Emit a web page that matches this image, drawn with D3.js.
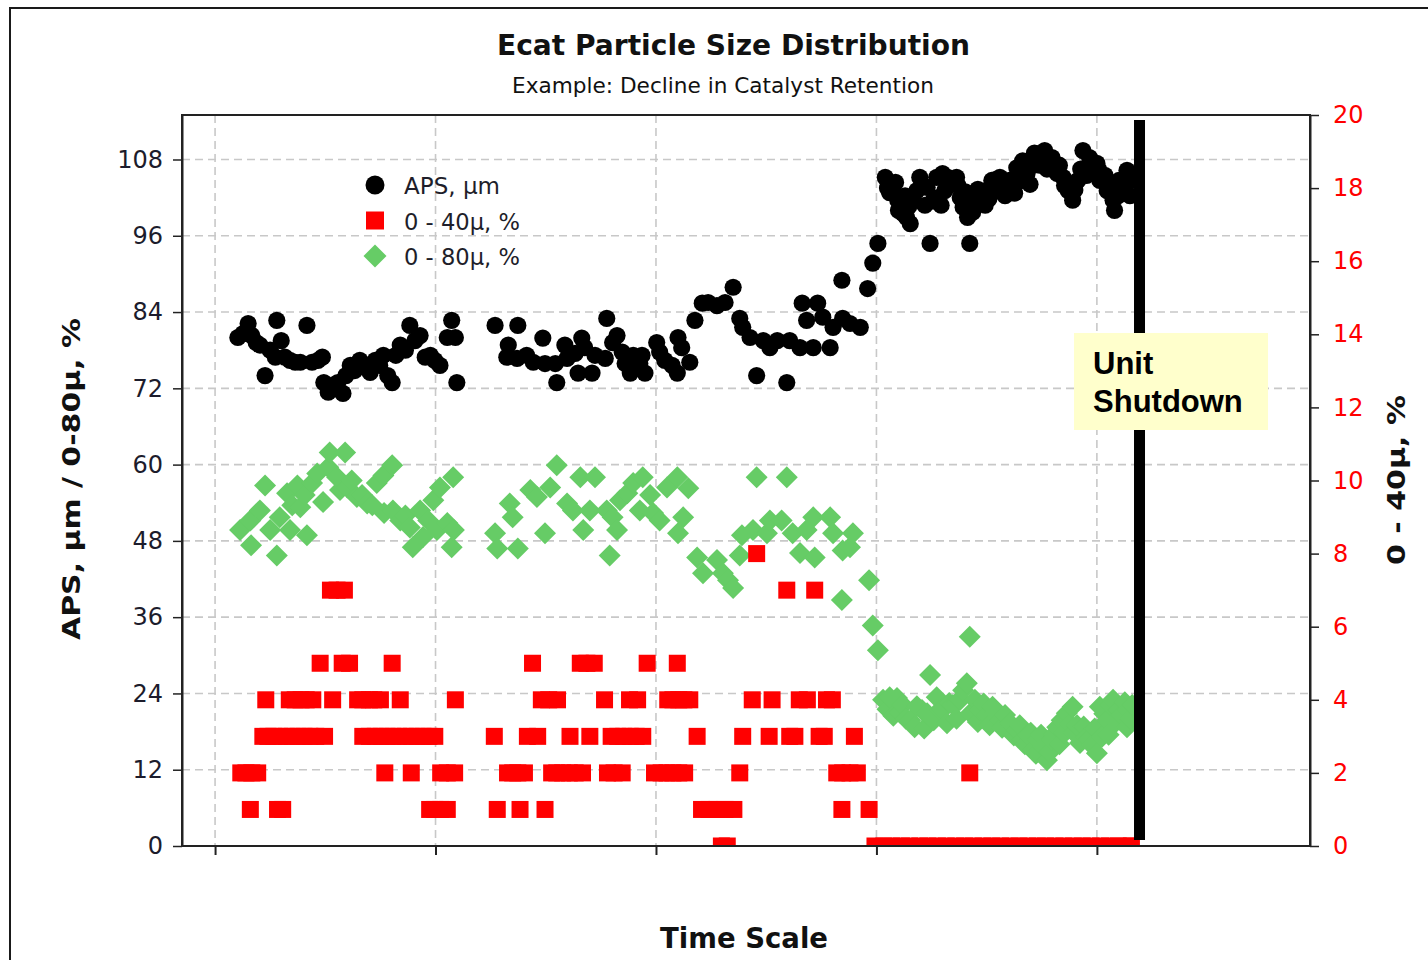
<!DOCTYPE html>
<html>
<head>
<meta charset="utf-8">
<script src="https://cdn.jsdelivr.net/npm/d3@7"></script>
<style>
  html, body { margin: 0; padding: 0; background: #ffffff; }
  svg { display: block; }
</style>
</head>
<body>
<svg id="chart" width="1428" height="960"></svg>
<script>
// ---- Texts ----
const chartTitle = "Ecat Particle Size Distribution";
const chartSubtitle = "Example: Decline in Catalyst Retention";
const xTitle = "Time Scale";
const yLeftTitle = "APS, µm / 0-80µ, %";
const yRightTitle = "0 - 40µ, %";
const seriesNames = ["APS, µm", "0 - 40µ, %", "0 - 80µ, %"];
const shutdownLabel = ["Unit", "Shutdown"];

// ---- Axis ticks ----
const leftTicks = [0, 12, 24, 36, 48, 60, 72, 84, 96, 108];
const rightTicks = [0, 2, 4, 6, 8, 10, 12, 14, 16, 18, 20];
const timeTicks = [0, 30, 60, 90, 120];
const shutdownDay = 125.8;

// ---- Samples: [day, value] ----
// Average particle size, µm (left axis)
const apsSeries = [
  [3.1,80.0],[3.8,80.6],[4.5,82.2],[5.0,80.3],[5.6,79.2],[6.1,78.8],[6.8,74.0],[7.5,78.0],
  [8.2,76.9],[8.4,82.7],[9.0,79.5],[9.5,76.9],[10.2,76.4],[10.9,76.1],[11.6,76.1],[12.5,81.9],
  [13.2,76.1],[14.0,76.4],[14.6,76.9],[14.8,72.9],[15.4,71.4],[16.1,72.5],[16.7,72.9],[17.4,71.2],
  [17.8,74.0],[18.4,75.6],[19.0,74.8],[19.7,76.4],[20.4,75.6],[21.1,74.5],[21.8,76.4],[22.4,75.6],
  [22.9,77.2],[23.5,74.0],[24.1,72.9],[24.6,77.2],[25.2,78.8],[25.9,78.0],[26.5,81.9],[27.2,79.5],
  [27.9,80.3],[28.6,76.9],[29.3,77.2],[29.9,76.4],[30.6,75.6],[31.6,80.0],[32.2,82.7],[32.7,80.0],
  [32.9,72.9],
  [38.1,81.9],[39.7,76.9],[39.9,78.8],[41.1,76.7],[41.2,81.9],[42.4,77.2],[43.3,76.1],[44.6,79.9],
  [44.9,75.9],[46.3,75.9],[46.5,72.9],[47.6,78.8],[47.9,76.7],[49.0,77.5],[49.4,74.4],[49.9,79.9],
  [50.3,78.4],[51.3,74.4],[51.7,77.2],[53.1,76.7],[53.3,83.0],[54.1,79.2],[54.7,80.3],[55.4,77.7],
  [55.8,75.9],[56.5,74.4],[56.9,77.2],[57.8,75.9],[58.1,77.2],[58.5,74.4],[60.1,79.2],[60.5,77.7],
  [61.2,76.4],[62.2,75.6],[62.9,74.4],[63.0,80.0],[63.5,78.4],[64.6,76.1],[65.3,82.7],[66.3,85.4],
  [67.1,85.5],[68.3,85.0],[69.4,85.5],[70.5,87.9],[71.4,83.0],[71.8,81.6],[72.8,80.0],[73.7,74.0],
  [74.6,79.5],[75.5,78.4],[76.5,79.5],[77.8,72.9],[78.2,79.5],[79.6,78.4],[79.9,85.4],[80.5,82.7],
  [81.4,78.4],[82.0,85.4],[82.7,83.2],[83.7,78.4],[84.1,81.6],[85.3,89.0],[85.4,83.0],[86.4,82.2],
  [87.8,81.6],[88.8,87.7],[89.5,91.7],[90.2,94.8],
  [91.2,105.2],[91.5,103.5],[91.8,102.8],[92.2,103.9],[92.6,104.4],[92.9,101.6],[93.0,100.0],[93.6,99.5],
  [93.9,102.3],[94.1,98.9],[94.4,100.6],[94.6,97.9],[95.0,101.6],[95.5,103.1],[95.9,105.2],[96.2,104.0],
  [96.6,100.8],[96.9,103.6],[97.3,94.8],[97.7,101.5],[98.2,105.2],[98.4,102.0],[98.8,100.8],[99.0,105.8],
  [99.3,103.1],[99.7,105.2],[100.4,104.2],[100.9,105.2],[101.1,103.9],[101.4,102.0],[101.8,100.5],[102.1,102.9],
  [102.4,98.9],[102.7,94.8],[103.1,99.7],[103.4,101.6],[103.8,103.3],[104.1,102.0],[104.8,100.8],[104.9,103.1],
  [105.3,101.8],[105.7,104.7],[106.1,104.8],[106.4,103.1],[106.8,105.2],[107.5,102.3],[107.9,104.2],[108.1,104.7],
  [108.8,102.7],[109.1,106.7],[109.4,104.6],[109.9,107.8],[110.0,105.5],[110.5,105.8],[110.9,104.1],[111.2,107.1],
  [111.5,109.0],[111.8,108.9],[112.2,107.1],[112.5,108.0],[112.9,109.4],[113.2,106.5],[113.5,107.9],[113.9,108.3],
  [114.3,106.9],[114.6,105.8],[114.9,107.1],[115.4,105.2],[115.6,103.9],[115.9,104.4],[116.1,103.1],[116.7,101.6],
  [117.0,103.2],[117.4,104.7],[117.8,106.5],[118.1,109.4],[118.6,105.5],[119.0,108.3],[119.5,106.2],[120.0,107.4],
  [120.2,106.5],[120.4,104.7],[121.1,105.5],[121.4,103.1],[121.8,104.1],[122.2,101.6],[122.4,100.0],[122.9,102.3],
  [123.0,104.7],[123.5,103.6],[123.9,104.9],[124.1,106.3],[124.5,102.3],[124.8,104.7]
];

// Fines 0-40 µm, % (right axis)
const fines40Series = [
  [3.5,2],[4.2,2],[4.8,1],[5.0,2],[5.8,2],[6.5,3],[6.9,4],[7.2,3],[8.0,3],[8.5,1],[8.8,3],[9.2,1],
  [9.7,3],[10.1,4],[10.5,3],[10.9,4],[11.3,3],[11.7,4],[12.1,3],[12.4,4],[12.9,3],[13.3,4],[13.7,3],
  [14.3,5],[14.9,3],[15.7,7],[16.0,4],[16.6,7],[17.3,5],[17.6,7],[18.3,5],[19.4,4],[20.1,3],[20.1,4],
  [21.0,3],[21.0,4],[21.6,4],[21.8,3],[22.5,4],[22.6,3],[23.1,2],[23.4,3],[24.1,5],[24.2,3],[25.0,3],
  [25.2,4],[25.9,3],[26.7,2],[26.7,3],[27.5,3],[28.3,3],[29.1,3],[29.2,1],[29.9,1],[29.9,3],[30.7,1],
  [30.7,2],[31.6,1],[31.6,2],[32.6,2],[32.7,4],
  [38.0,3],[38.4,1],[39.8,2],[40.5,2],[41.2,2],[41.5,1],[42.1,2],[42.5,3],[43.2,5],[43.9,3],[44.4,4],
  [44.9,1],[45.4,4],[45.8,2],[46.5,2],[46.6,4],[47.3,2],[48.2,2],[48.3,3],[49.0,2],[49.7,5],[50.0,2],
  [50.6,5],[51.0,3],[51.6,5],[53.0,4],[53.4,2],[53.9,3],[54.3,2],[54.8,3],[55.4,2],[55.6,3],[56.4,4],
  [56.5,3],[57.3,3],[57.5,4],[58.2,3],[58.8,5],[59.8,2],[60.7,2],[61.5,2],[61.6,4],[62.3,2],[62.3,4],
  [62.9,5],[63.1,2],[63.1,4],[63.8,4],[63.9,2],[64.6,4],[65.6,3],[66.2,1],[67.2,1],[68.3,1],[68.9,0],
  [69.4,1],[69.7,0],[70.6,1],[71.4,2],[71.8,3],[73.1,4],[73.7,8],[75.4,3],[75.8,4],[77.8,7],[78.2,3],
  [78.9,3],[79.5,4],[80.6,4],[81.6,7],[82.2,3],[82.9,3],[83.2,4],[84.0,4],[84.6,2],[85.3,1],[85.4,2],
  [86.4,2],[87.0,3],[87.4,2],[89.0,1],
  [89.8,0],[91.0,0],[92.1,0],[93.4,0],[94.5,0],[95.9,0],[97.0,0],[98.3,0],[99.5,0],[100.8,0],[102.0,0],
  [102.7,2],[103.2,0],[104.5,0],[105.7,0],[106.9,0],[108.2,0],[109.4,0],[110.6,0],[111.9,0],[113.0,0],
  [114.3,0],[115.5,0],[116.8,0],[118.0,0],[119.2,0],[120.5,0],[121.7,0],[122.9,0],[124.0,0],[124.7,0]
];

// Fines 0-80 µm, % (left axis)
const fines80Series = [
  [3.4,49.7],[4.8,51.2],[4.9,47.3],[6.1,52.8],[6.8,56.7],[7.5,49.7],[8.4,45.7],[8.8,51.7],[9.8,55.5],
  [10.2,49.7],[10.5,53.6],[11.2,56.7],[11.6,53.3],[12.2,55.2],[12.5,48.9],[13.2,57.1],[13.9,58.6],
  [14.7,54.1],[15.4,59.6],[15.6,61.9],[16.6,58.0],[17.0,56.0],[17.7,61.9],[18.0,56.4],[18.6,57.5],
  [19.3,54.9],[20.0,55.2],[20.7,53.9],[21.4,53.6],[22.0,57.1],[22.9,58.3],[23.0,52.4],[24.1,59.9],
  [24.2,52.8],[25.2,51.2],[25.9,52.0],[26.5,50.1],[26.9,47.0],[27.9,52.8],[28.3,48.6],[29.0,51.2],
  [29.7,54.4],[30.2,49.7],[30.6,56.4],[31.6,50.8],[32.2,47.0],[32.4,58.0],[32.5,49.7],
  [38.1,49.2],[38.4,46.8],[40.1,53.9],[40.5,51.7],[41.2,46.8],[42.9,56.0],[43.8,54.9],[44.9,49.2],
  [45.6,56.4],[46.5,59.9],[47.9,53.9],[48.7,52.8],[49.7,58.0],[50.1,49.7],[51.0,52.8],[51.7,58.0],
  [53.3,52.8],[53.7,45.7],[54.1,51.7],[54.7,49.7],[55.1,54.4],[56.1,55.5],[56.9,57.1],[57.8,52.8],
  [58.2,58.0],[59.2,55.2],[59.6,52.4],[60.5,51.2],[61.5,56.4],[62.9,58.0],[63.0,49.2],[63.7,51.7],
  [64.4,56.3],[65.6,45.4],[66.4,42.9],[68.3,45.0],[69.1,42.9],[69.8,41.8],[70.5,40.6],[71.4,45.7],
  [71.7,48.9],[73.2,49.7],[73.7,58.0],[75.1,49.2],[75.5,51.2],[77.1,51.2],[77.8,58.0],[78.6,49.2],
  [79.6,46.1],[80.5,49.7],[81.4,51.7],[81.6,45.4],[83.7,51.7],[84.1,49.2],[85.3,38.7],[85.4,46.5],
  [86.4,47.0],[86.8,49.2],[89.0,41.8],[89.5,34.7],[90.2,30.8],
  [90.9,23.0],[91.5,21.5],[91.8,23.4],[92.3,20.5],[92.8,23.3],[93.2,21.0],[93.6,22.2],[94.0,20.0],
  [94.6,19.8],[95.2,18.7],[95.5,22.0],[96.2,21.4],[96.5,18.5],[96.9,20.9],[97.3,26.9],[97.8,19.8],
  [98.2,23.4],[98.6,21.4],[99.0,21.5],[99.6,19.3],[99.9,22.5],[100.4,22.2],[100.9,20.0],[101.0,22.6],
  [101.4,23.0],[101.8,24.5],[102.3,25.6],[102.7,32.9],[102.8,20.9],[103.4,23.0],[103.8,19.5],[104.1,21.4],
  [104.6,22.4],[105.0,20.6],[105.4,19.0],[105.8,21.9],[106.2,21.0],[106.8,19.8],[107.1,18.6],[107.5,20.6],
  [108.2,19.3],[108.7,17.4],[109.1,18.2],[109.5,19.0],[109.9,16.7],[110.2,16.0],[110.6,17.5],[111.0,17.8],
  [111.3,15.1],[111.7,14.5],[112.0,16.7],[112.4,17.5],[112.7,15.6],[113.2,13.5],[113.6,14.8],[113.9,16.7],
  [114.2,17.6],[114.6,18.7],[114.9,16.0],[115.2,19.8],[115.6,17.8],[115.9,20.9],[116.3,19.2],[116.7,21.9],
  [116.9,17.8],[117.3,19.0],[117.7,16.2],[118.2,18.8],[118.6,17.1],[119.0,16.8],[119.3,15.9],[119.7,18.5],
  [120.0,14.6],[120.4,21.9],[120.7,17.2],[121.0,20.8],[121.4,19.8],[121.6,17.5],[121.8,22.2],[122.2,23.0],
  [122.6,19.5],[122.9,21.4],[123.4,20.6],[123.8,22.6],[124.1,18.7],[124.2,21.4],[124.5,20.0],[124.8,22.2]
];

// ---- Colours ----
const colAps = "#000000";
const colF40 = "#ff0000";
const colF80 = "#66cc66";
const colGrid = "#c8c8c8";
const colAxisText = "#1c1c2c";

// ---- Layout ----
const W = 1428, H = 960;
const plot = { left: 182, right: 1310, top: 115, bottom: 846 };

const svg = d3.select("#chart");
svg.append("rect").attr("width", W).attr("height", H).attr("fill", "#ffffff");

// outer frame of the chart panel
svg.append("rect")
  .attr("x", 10).attr("y", 8).attr("width", W + 20).attr("height", H + 20)
  .attr("fill", "none").attr("stroke", "#1a1a1a").attr("stroke-width", 2);

const x = d3.scaleLinear().domain([-4.5, 149]).range([plot.left, plot.right]);
const yL = d3.scaleLinear().domain([0, 115]).range([plot.bottom, plot.top]);
const yR = d3.scaleLinear().domain([0, 20]).range([plot.bottom, plot.top]);

// titles
svg.append("text")
  .attr("x", 733.5).attr("y", 55)
  .attr("text-anchor", "middle")
  .attr("font-family", "'DejaVu Sans', sans-serif")
  .attr("font-weight", "bold").attr("font-size", 29)
  .attr("textLength", 473).attr("lengthAdjust", "spacingAndGlyphs")
  .attr("fill", "#111")
  .text(chartTitle);

svg.append("text")
  .attr("x", 723).attr("y", 93)
  .attr("text-anchor", "middle")
  .attr("font-family", "'DejaVu Sans', sans-serif")
  .attr("font-size", 22)
  .attr("textLength", 422).attr("lengthAdjust", "spacingAndGlyphs")
  .attr("fill", "#111")
  .text(chartSubtitle);

// gridlines
const grid = svg.append("g").attr("stroke", colGrid).attr("stroke-width", 1.6)
  .attr("stroke-dasharray", "8,5").attr("fill", "none");
grid.selectAll("line.h").data(leftTicks.filter(d => d > 0)).join("line")
  .attr("class", "h")
  .attr("x1", plot.left).attr("x2", plot.right)
  .attr("y1", d => yL(d)).attr("y2", d => yL(d));
grid.selectAll("line.v").data(timeTicks).join("line")
  .attr("class", "v")
  .attr("x1", d => x(d)).attr("x2", d => x(d))
  .attr("y1", plot.top).attr("y2", plot.bottom);

// clip for markers
svg.append("defs").append("clipPath").attr("id", "plotClip")
  .append("rect")
  .attr("x", plot.left).attr("y", plot.top)
  .attr("width", plot.right - plot.left).attr("height", plot.bottom - plot.top);

const marks = svg.append("g").attr("clip-path", "url(#plotClip)");

// diamond marker path
const diamond = h => `M0,${-h}L${h},0L0,${h}L${-h},0Z`;

// 0-80 µ series
marks.append("g").selectAll("path").data(fines80Series).join("path")
  .attr("d", diamond(11))
  .attr("transform", d => `translate(${x(d[0])},${yL(d[1])})`)
  .attr("fill", colF80);

// 0-40 µ series
const sq = 17;
marks.append("g").selectAll("rect").data(fines40Series).join("rect")
  .attr("x", d => x(d[0]) - sq / 2).attr("y", d => yR(d[1]) - sq / 2)
  .attr("width", sq).attr("height", sq)
  .attr("fill", colF40);

// APS series
marks.append("g").selectAll("circle").data(apsSeries).join("circle")
  .attr("cx", d => x(d[0])).attr("cy", d => yL(d[1]))
  .attr("r", 8.6)
  .attr("fill", colAps);

// plot frame
svg.append("rect")
  .attr("x", plot.left).attr("y", plot.top)
  .attr("width", plot.right - plot.left).attr("height", plot.bottom - plot.top)
  .attr("fill", "none").attr("stroke", "#222").attr("stroke-width", 2);

// left axis
const axL = svg.append("g").attr("transform", `translate(${plot.left},0)`)
  .call(d3.axisLeft(yL).tickValues(leftTicks).tickSize(9).tickSizeOuter(0).tickPadding(10).tickFormat(d3.format("d")));
axL.select(".domain").attr("stroke", "#222").attr("stroke-width", 2);
axL.selectAll(".tick line").attr("stroke", "#222").attr("stroke-width", 1.5);
axL.selectAll(".tick text")
  .attr("font-family", "'DejaVu Sans', sans-serif").attr("font-size", 24)
  .attr("fill", colAxisText);

// right axis
const axR = svg.append("g").attr("transform", `translate(${plot.right},0)`)
  .call(d3.axisRight(yR).tickValues(rightTicks).tickSize(9).tickSizeOuter(0).tickPadding(14).tickFormat(d3.format("d")));
axR.select(".domain").attr("stroke", "#222").attr("stroke-width", 2);
axR.selectAll(".tick line").attr("stroke", "#222").attr("stroke-width", 1.5);
axR.selectAll(".tick text")
  .attr("font-family", "'DejaVu Sans', sans-serif").attr("font-size", 24)
  .attr("fill", colF40);

// bottom axis (no labels)
const axB = svg.append("g").attr("transform", `translate(0,${plot.bottom})`)
  .call(d3.axisBottom(x).tickValues(timeTicks).tickSize(9).tickFormat(""));
axB.select(".domain").remove();
axB.selectAll(".tick line").attr("stroke", "#222").attr("stroke-width", 2);

// axis titles
svg.append("text")
  .attr("transform", "translate(72,479) rotate(-90)")
  .attr("text-anchor", "middle").attr("dominant-baseline", "central")
  .attr("font-family", "'DejaVu Sans', sans-serif").attr("font-weight", "bold").attr("font-size", 24)
  .attr("textLength", 322).attr("lengthAdjust", "spacingAndGlyphs")
  .attr("fill", "#111")
  .text(yLeftTitle);

svg.append("text")
  .attr("transform", "translate(1397,480) rotate(-90)")
  .attr("text-anchor", "middle").attr("dominant-baseline", "central")
  .attr("font-family", "'DejaVu Sans', sans-serif").attr("font-weight", "bold").attr("font-size", 24)
  .attr("textLength", 170).attr("lengthAdjust", "spacingAndGlyphs")
  .attr("fill", "#111")
  .text(yRightTitle);

svg.append("text")
  .attr("x", 744).attr("y", 948)
  .attr("text-anchor", "middle")
  .attr("font-family", "'DejaVu Sans', sans-serif").attr("font-weight", "bold").attr("font-size", 29)
  .attr("textLength", 168).attr("lengthAdjust", "spacingAndGlyphs")
  .attr("fill", "#111")
  .text(xTitle);

// legend
const legend = svg.append("g").attr("transform", "translate(375,185)");
const legRows = legend.selectAll("g").data(seriesNames).join("g")
  .attr("transform", (d, i) => `translate(0,${i * 35.5})`);
legRows.each(function (d, i) {
  const g = d3.select(this);
  if (i === 0) g.append("circle").attr("r", 9.5).attr("fill", colAps);
  if (i === 1) g.append("rect").attr("x", -9).attr("y", -9).attr("width", 18).attr("height", 18).attr("fill", colF40);
  if (i === 2) g.append("path").attr("d", diamond(11.5)).attr("fill", colF80);
});
legRows.append("text")
  .attr("x", 29).attr("y", 9)
  .attr("font-family", "'DejaVu Sans', sans-serif").attr("font-size", 23)
  .attr("textLength", (d, i) => i === 0 ? 96 : 116).attr("lengthAdjust", "spacingAndGlyphs")
  .attr("fill", "#1e1e2a")
  .text(d => d);

// unit shutdown marker
const sx = x(shutdownDay);
svg.append("line")
  .attr("x1", sx).attr("x2", sx)
  .attr("y1", plot.top + 5).attr("y2", plot.bottom - 6)
  .attr("stroke", "#000").attr("stroke-width", 11);

const note = svg.append("g").attr("transform", `translate(${sx - 65.5},333)`);
note.append("rect").attr("width", 194).attr("height", 97).attr("fill", "#ffffcc");
note.selectAll("text").data(shutdownLabel).join("text")
  .attr("x", 19).attr("y", (d, i) => 41 + i * 38)
  .attr("font-family", "'Liberation Sans', Arial, sans-serif").attr("font-weight", "bold")
  .attr("font-size", 31)
  .attr("fill", "#000")
  .text(d => d);
</script>
</body>
</html>
